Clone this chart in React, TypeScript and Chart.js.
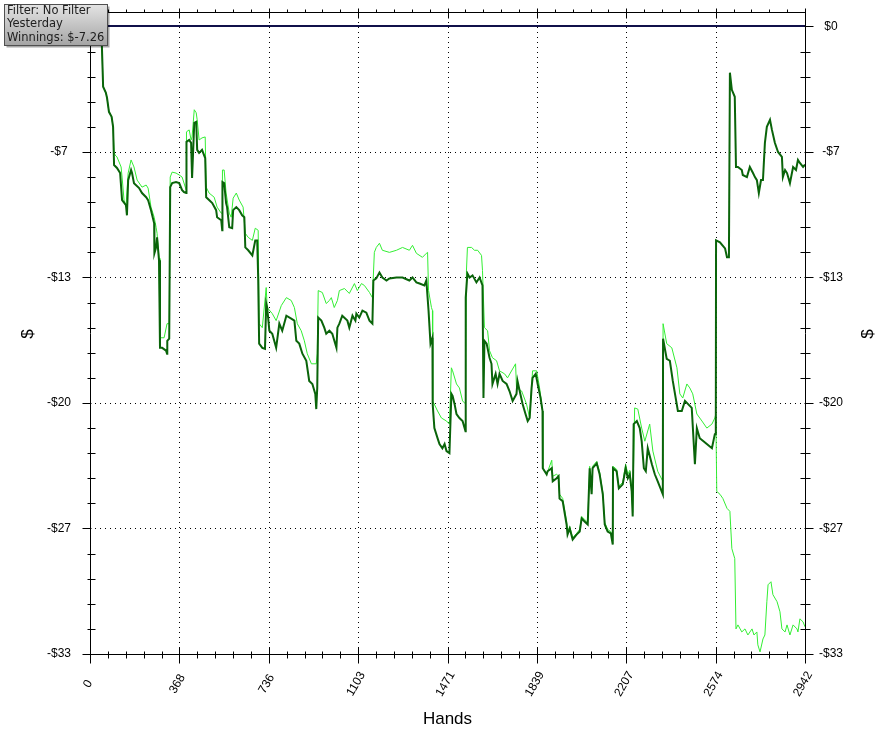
import React, { useEffect, useRef } from "react";
import { Chart, registerables } from "chart.js";

Chart.register(...registerables);

// ---- Data (hand number, cumulative winnings in $) ----
const winningsDark: [number, number][] = [
  [0, 0], [41, -0.16], [49, -1.06], [54, -3.17], [65, -3.48], [70, -3.75], [78, -4.49], [89, -4.75],
  [95, -5.28], [99, -7.29], [111, -7.44], [124, -7.71], [132, -9.13], [148, -9.4], [152, -9.93],
  [157, -8.08], [169, -7.55], [173, -7.71], [181, -8.24], [202, -8.5], [214, -8.76], [231, -8.98],
  [239, -9.13], [251, -9.66], [264, -10.35], [265, -11.93], [272, -11.62], [276, -11.09], [284, -12.3],
  [288, -16.9], [297, -16.9], [313, -17.05], [317, -17.21], [318, -16.53], [326, -16.42], [330, -8.45],
  [338, -8.24], [354, -8.18], [367, -8.24], [379, -8.61], [387, -8.71], [396, -8.76], [397, -6.07],
  [408, -5.97], [416, -6.12], [420, -7.97], [429, -5.07], [437, -5.02], [441, -6.49], [449, -6.65],
  [461, -6.49], [474, -6.92], [478, -8.98], [490, -9.13], [503, -9.29], [519, -9.66], [523, -10.03],
  [540, -10.19], [544, -10.72], [545, -8.18], [552, -8.24], [560, -9.29], [564, -9.5], [573, -10.56],
  [585, -10.61], [589, -9.66], [602, -9.5], [614, -9.66], [626, -9.93], [635, -10.03], [639, -11.62],
  [651, -11.77], [668, -12.04], [680, -11.25], [688, -11.25], [692, -13.2], [696, -16.68], [709, -16.9],
  [720, -16.95], [725, -14.57], [729, -14.78], [738, -16.0], [750, -16.16], [766, -16.9], [779, -15.63],
  [791, -16.0], [808, -15.21], [828, -15.36], [841, -15.47], [849, -16.53], [861, -16.68], [874, -17.21],
  [890, -17.58], [902, -18.64], [915, -18.8], [927, -19.32], [931, -20.12], [935, -19.01], [939, -15.31],
  [952, -15.47], [964, -15.84], [972, -16.16], [985, -16.0], [997, -16.16], [1014, -16.9], [1018, -15.84],
  [1026, -15.63], [1038, -15.21], [1059, -15.47], [1067, -15.84], [1080, -15.21], [1092, -15.47],
  [1096, -15.1], [1108, -15.31], [1121, -14.94], [1137, -15.05], [1150, -15.47], [1162, -15.63],
  [1166, -13.36], [1178, -13.25], [1191, -12.94], [1203, -13.2], [1220, -13.36], [1232, -13.25],
  [1261, -13.2], [1286, -13.2], [1314, -13.36], [1327, -13.2], [1343, -13.46], [1356, -13.52],
  [1376, -13.62], [1384, -13.36], [1393, -14.94], [1401, -16.68], [1409, -16.37], [1410, -19.85],
  [1417, -21.12], [1430, -21.65], [1438, -21.96], [1450, -22.18], [1459, -21.96], [1467, -22.33],
  [1479, -22.44], [1487, -19.32], [1492, -19.43], [1500, -19.85], [1508, -20.38], [1520, -20.59],
  [1533, -20.75], [1545, -21.28], [1546, -14.26], [1553, -12.99], [1562, -13.2], [1574, -13.09],
  [1590, -13.46], [1603, -13.2], [1615, -13.62], [1619, -19.54], [1623, -16.53], [1632, -16.68],
  [1644, -17.42], [1652, -17.74], [1656, -18.8], [1669, -18.27], [1677, -18.8], [1685, -18.27],
  [1698, -18.64], [1714, -18.8], [1726, -19.17], [1739, -19.69], [1755, -19.32], [1759, -18.64],
  [1768, -19.17], [1780, -19.85], [1792, -20.38], [1801, -20.75], [1809, -20.59], [1817, -19.01],
  [1821, -18.48], [1834, -18.27], [1842, -18.8], [1854, -19.54], [1862, -20.22], [1863, -23.23],
  [1879, -23.55], [1883, -23.39], [1900, -23.23], [1904, -23.92], [1920, -23.76], [1928, -23.65],
  [1932, -24.82], [1945, -24.97], [1961, -26.19], [1965, -26.72], [1974, -26.4], [1986, -26.98],
  [2002, -26.72], [2015, -26.56], [2023, -25.87], [2035, -26.03], [2048, -26.19], [2056, -23.23],
  [2064, -24.6], [2068, -23.23], [2085, -22.97], [2097, -23.55], [2110, -24.6], [2118, -26.19],
  [2130, -26.56], [2143, -26.66], [2151, -27.24], [2152, -23.23], [2167, -23.39], [2176, -24.29],
  [2192, -24.08], [2204, -23.23], [2213, -23.76], [2221, -23.55], [2229, -24.45], [2233, -25.77],
  [2237, -20.91], [2250, -20.75], [2262, -21.12], [2270, -21.81], [2279, -23.23], [2287, -23.39],
  [2295, -22.18], [2312, -23.02], [2324, -23.55], [2336, -23.92], [2357, -24.6], [2358, -16.42],
  [2373, -17.48], [2386, -17.58], [2398, -18.64], [2419, -20.22], [2435, -20.22], [2448, -19.69],
  [2460, -19.85], [2476, -20.06], [2489, -23.02], [2497, -21.12], [2509, -21.65], [2538, -21.96],
  [2559, -22.18], [2571, -21.44], [2575, -21.44], [2576, -11.25], [2592, -11.35], [2613, -11.67],
  [2621, -12.14], [2629, -12.14], [2633, -2.43], [2641, -3.33], [2653, -3.7], [2658, -7.39],
  [2666, -7.39], [2682, -7.55], [2686, -7.81], [2703, -7.92], [2715, -7.39], [2728, -7.71],
  [2736, -7.92], [2744, -8.08], [2752, -8.76], [2761, -8.08], [2769, -8.08], [2777, -6.12],
  [2785, -5.28], [2798, -4.91], [2806, -5.44], [2818, -6.12], [2831, -6.6], [2847, -6.86],
  [2851, -7.92], [2860, -7.55], [2868, -7.71], [2880, -8.24], [2893, -7.39], [2905, -7.55],
  [2913, -7.02], [2921, -7.18], [2934, -7.39], [2942, -7.26],
];

const winningsLight: [number, number][] = [
  [0, 0], [41, -0.16], [49, -1.06], [54, -3.17], [65, -3.48], [70, -3.75], [78, -4.49], [89, -4.75],
  [95, -5.28], [99, -6.6], [103, -6.76], [111, -6.86], [128, -7.39], [132, -7.92], [140, -9.13],
  [148, -9.5], [157, -7.71], [169, -7.02], [181, -7.39], [194, -8.08], [214, -8.45], [231, -8.34],
  [239, -8.5], [251, -9.5], [264, -10.03], [272, -10.56], [276, -10.88], [284, -12.2], [288, -16.37],
  [305, -16.37], [317, -15.63], [326, -15.63], [330, -7.92], [338, -7.66], [354, -7.71], [367, -7.81],
  [379, -7.92], [396, -8.61], [397, -5.54], [408, -5.44], [416, -5.97], [420, -5.81], [429, -4.38],
  [437, -4.54], [441, -4.91], [449, -5.97], [461, -5.86], [474, -5.81], [478, -8.45], [490, -8.76],
  [511, -8.98], [523, -9.5], [540, -9.82], [544, -9.82], [545, -7.55], [552, -7.55], [560, -8.76],
  [573, -9.82], [581, -10.03], [589, -9.03], [602, -8.76], [614, -9.13], [630, -9.5], [639, -10.88],
  [651, -11.09], [668, -11.25], [680, -10.61], [692, -10.72], [696, -15.63], [709, -15.84],
  [725, -13.73], [729, -14.78], [750, -15.1], [766, -15.47], [787, -14.68], [808, -14.26],
  [828, -14.41], [841, -14.78], [853, -15.63], [869, -16.0], [882, -16.53], [894, -17.21],
  [911, -17.74], [931, -17.74], [935, -17.21], [939, -13.89], [956, -13.99], [972, -14.57],
  [985, -14.41], [993, -14.26], [1005, -14.78], [1018, -14.41], [1026, -13.89], [1047, -13.78],
  [1067, -14.04], [1088, -13.52], [1100, -13.89], [1117, -13.52], [1129, -13.62], [1150, -13.99],
  [1162, -14.26], [1170, -11.88], [1178, -11.62], [1191, -11.4], [1203, -11.77], [1232, -11.88],
  [1261, -11.77], [1286, -11.62], [1314, -11.77], [1327, -11.51], [1343, -11.93], [1368, -12.14],
  [1384, -11.93], [1389, -11.88], [1393, -13.89], [1405, -14.78], [1409, -14.94], [1410, -19.69],
  [1430, -20.22], [1446, -20.59], [1467, -20.75], [1479, -20.91], [1487, -17.95], [1492, -18.11],
  [1508, -18.8], [1520, -19.01], [1533, -19.69], [1545, -19.85], [1549, -12.83], [1553, -11.62],
  [1570, -11.62], [1582, -11.77], [1595, -11.77], [1611, -12.04], [1615, -12.83], [1623, -15.84],
  [1636, -16.0], [1644, -17.05], [1656, -17.42], [1673, -17.58], [1685, -18.11], [1706, -18.27],
  [1718, -18.48], [1751, -17.74], [1755, -19.01], [1776, -19.17], [1796, -19.85], [1809, -20.59],
  [1821, -18.11], [1838, -18.11], [1850, -19.01], [1862, -20.22], [1863, -23.23], [1879, -23.55],
  [1900, -22.81], [1904, -23.65], [1920, -23.55], [1928, -23.65], [1932, -24.6], [1945, -24.82],
  [1961, -26.03], [1965, -26.56], [1974, -26.3], [1986, -26.88], [2002, -26.66], [2015, -26.45],
  [2023, -25.77], [2035, -25.92], [2048, -26.08], [2056, -23.13], [2064, -24.5], [2068, -23.13],
  [2085, -22.87], [2097, -23.44], [2110, -24.5], [2118, -26.08], [2130, -26.45], [2143, -26.56],
  [2151, -27.03], [2152, -23.13], [2167, -23.29], [2176, -24.18], [2192, -23.97], [2204, -23.02],
  [2213, -23.55], [2221, -23.34], [2229, -24.29], [2233, -25.56], [2241, -20.06], [2254, -20.12],
  [2270, -21.12], [2283, -21.81], [2303, -20.91], [2316, -22.33], [2336, -23.39], [2357, -23.92],
  [2358, -15.63], [2373, -16.68], [2394, -16.9], [2415, -17.95], [2427, -19.32], [2439, -19.54],
  [2456, -18.8], [2468, -19.01], [2480, -19.32], [2497, -20.38], [2518, -20.75], [2538, -21.12],
  [2559, -20.91], [2571, -20.59], [2575, -20.38], [2579, -24.45], [2592, -24.6], [2604, -24.82],
  [2621, -25.34], [2633, -25.5], [2641, -27.46], [2653, -27.98], [2658, -31.68], [2666, -31.47],
  [2682, -31.84], [2695, -31.68], [2707, -32.0], [2724, -31.68], [2732, -32.0], [2744, -31.84],
  [2748, -32.52], [2757, -32.89], [2769, -32.21], [2777, -32.0], [2785, -30.25], [2790, -29.36],
  [2802, -29.2], [2810, -29.88], [2827, -30.25], [2839, -30.78], [2847, -31.68], [2860, -31.84],
  [2868, -31.47], [2880, -32.0], [2893, -31.47], [2909, -31.68], [2913, -31.84], [2921, -31.15],
  [2934, -31.31], [2942, -31.57],
];

const xTickLabels = ["0", "368", "736", "1103", "1471", "1839", "2207", "2574", "2942"];
const yTickLabels = ["$0", "-$7", "-$13", "-$20", "-$27", "-$33"];
const infoLines = ["Filter: No Filter", "Yesterday", "Winnings: $-7.26"];

const HANDS_MAX = 2942;
const Y_MIN = -33;
const Y_MAX = 0.76;
const Y_STEP = 6.6;

const crisp = (v: number) => Math.round(v) + 0.5;

const decorPlugin = {
  id: "decor",
  beforeDatasetsDraw(chart: any) {
    const { ctx, chartArea: a, scales } = chart;
    const xs = scales.x;
    const ys = scales.y;
    ctx.save();
    ctx.strokeStyle = "#000";
    ctx.lineWidth = 1;
    ctx.setLineDash([1, 4]);
    ctx.beginPath();
    for (let i = 1; i < xTickLabels.length - 1; i++) {
      const px = crisp(xs.getPixelForValue((i * HANDS_MAX) / (xTickLabels.length - 1)));
      ctx.moveTo(px, a.top);
      ctx.lineTo(px, a.bottom);
    }
    for (let i = 1; i < yTickLabels.length - 1; i++) {
      const py = crisp(ys.getPixelForValue(-i * Y_STEP));
      ctx.moveTo(a.left, py);
      ctx.lineTo(a.right, py);
    }
    ctx.stroke();
    ctx.setLineDash([]);
    const z = Math.round(ys.getPixelForValue(0));
    ctx.strokeStyle = "#10104a";
    ctx.lineWidth = 2;
    ctx.beginPath();
    ctx.moveTo(a.left, z);
    ctx.lineTo(a.right, z);
    ctx.stroke();
    ctx.restore();
  },
  afterDatasetsDraw(chart: any) {
    const { ctx, chartArea: a, scales } = chart;
    const xs = scales.x;
    const ys = scales.y;
    ctx.save();
    ctx.strokeStyle = "#000";
    ctx.lineWidth = 1;
    const L = crisp(a.left), R = crisp(a.right), T = crisp(a.top), B = crisp(a.bottom);
    ctx.beginPath();
    ctx.moveTo(L, T); ctx.lineTo(L, B);
    ctx.moveTo(R, T); ctx.lineTo(R, B);
    ctx.moveTo(L, T); ctx.lineTo(R, T);
    ctx.moveTo(L, B); ctx.lineTo(R, B);
    // x ticks (major + 4 minor between)
    const nX = (xTickLabels.length - 1) * 5;
    for (let j = 0; j <= nX; j++) {
      const px = crisp(xs.getPixelForValue((j * HANDS_MAX) / nX));
      const major = j % 5 === 0;
      ctx.moveTo(px, B + (major ? -7 : -3));
      ctx.lineTo(px, B + (major ? 9 : 4));
      ctx.moveTo(px, T - (major ? 4 : 3));
      ctx.lineTo(px, T + (major ? 6 : 0));
    }
    // y ticks
    const nY = (yTickLabels.length - 1) * 5;
    for (let j = 0; j <= nY; j++) {
      const py = crisp(ys.getPixelForValue((-j * Y_STEP) / 5));
      const major = j % 5 === 0;
      if (major) {
        ctx.moveTo(L - 8, py); ctx.lineTo(L + 1, py);
        ctx.moveTo(R - 1, py); ctx.lineTo(R + 8, py);
      } else {
        ctx.moveTo(L - 3, py); ctx.lineTo(L + 5, py);
        ctx.moveTo(R - 5, py); ctx.lineTo(R + 5, py);
      }
    }
    ctx.stroke();

    // tick labels
    ctx.fillStyle = "#000";
    ctx.font = '12px "Liberation Sans", Arial, sans-serif';
    ctx.textAlign = "center";
    ctx.textBaseline = "middle";
    yTickLabels.forEach((lab, i) => {
      const py = ys.getPixelForValue(-i * Y_STEP);
      ctx.fillText(lab, a.left - 31, py);
      ctx.fillText(lab, a.right + 26, py);
    });
    xTickLabels.forEach((lab, i) => {
      const px = xs.getPixelForValue((i * HANDS_MAX) / (xTickLabels.length - 1));
      ctx.save();
      ctx.translate(px - 2, a.bottom + 30);
      ctx.rotate(-Math.PI / 3);
      ctx.fillText(lab, 0, 0);
      ctx.restore();
    });

    // axis titles
    ctx.font = '17px "Liberation Sans", Arial, sans-serif';
    ctx.fillText("Hands", (a.left + a.right) / 2, a.bottom + 65);
    const midY = (a.top + a.bottom) / 2;
    ctx.save();
    ctx.translate(28, midY + 1);
    ctx.rotate(-Math.PI / 2);
    ctx.fillText("$", 0, 0);
    ctx.restore();
    ctx.save();
    ctx.translate(868, midY + 1);
    ctx.rotate(-Math.PI / 2);
    ctx.fillText("$", 0, 0);
    ctx.restore();

    // info box
    const bx = 4.5, by = 4.5, bw = 103, bh = 41;
    ctx.fillStyle = "rgba(0,0,0,0.35)";
    ctx.fillRect(bx + 2, by + 2, bw, bh);
    const g = ctx.createLinearGradient(0, by, 0, by + bh);
    g.addColorStop(0, "#e4e4e4");
    g.addColorStop(1, "#a4a4a4");
    ctx.fillStyle = g;
    ctx.fillRect(bx, by, bw, bh);
    ctx.strokeStyle = "#505050";
    ctx.strokeRect(bx, by, bw, bh);
    ctx.fillStyle = "#202020";
    ctx.font = '11.5px "DejaVu Sans", Verdana, sans-serif';
    ctx.textAlign = "left";
    infoLines.forEach((t, i) => ctx.fillText(t, 7, 11 + i * 13.5));
    ctx.restore();
  },
};

export default function App() {
  const ref = useRef<HTMLCanvasElement | null>(null);
  useEffect(() => {
    document.body.style.margin = "0";
    const canvas = ref.current;
    if (!canvas) return;
    const chart = new Chart(canvas, {
      type: "line",
      data: {
        datasets: [
          {
            label: "Winnings",
            data: winningsDark.map(([x, y]) => ({ x, y })),
            borderColor: "#0a640a",
            borderWidth: 2,
            pointRadius: 0,
            tension: 0,
            fill: false,
          },
          {
            label: "Winnings (alt)",
            data: winningsLight.map(([x, y]) => ({ x, y })),
            borderColor: "#33ee33",
            borderWidth: 1,
            pointRadius: 0,
            tension: 0,
            fill: false,
          },
        ],
      },
      options: {
        responsive: false,
        animation: false,
        devicePixelRatio: 1,
        events: [],
        layout: { padding: { left: 90, right: 80, top: 12, bottom: 77 } },
        scales: {
          x: { type: "linear", min: 0, max: HANDS_MAX, display: false },
          y: { type: "linear", min: Y_MIN, max: Y_MAX, display: false },
        },
        plugins: { legend: { display: false }, tooltip: { enabled: false } },
      },
      plugins: [decorPlugin],
    });
    return () => chart.destroy();
  }, []);
  return (
    <div style={{ width: 885, height: 731, background: "#fff" }}>
      <canvas ref={ref} width={885} height={731} style={{ display: "block" }} />
    </div>
  );
}
